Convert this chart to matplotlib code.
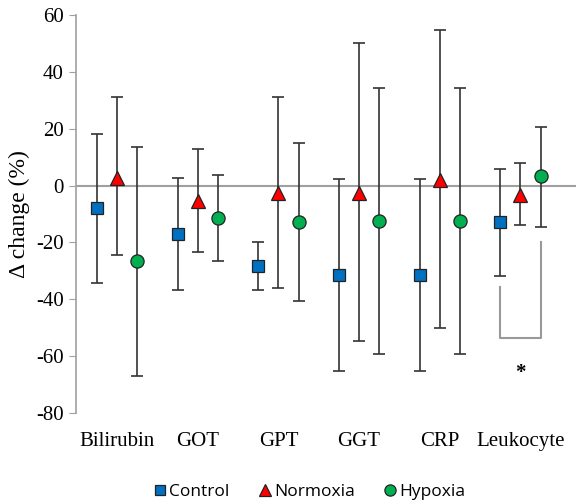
import matplotlib
matplotlib.use('Agg')
from matplotlib import pyplot as plt
import numpy as np

plt.rcParams['font.family'] = 'Liberation Serif'
plt.rcParams['axes.unicode_minus'] = False

categories = ['Bilirubin', 'GOT', 'GPT', 'GGT', 'CRP', 'Leukocyte']

# mean change (%) and error bar ends
control = [-8, -17, -28.5, -31.5, -31.5, -13]
control_hi = [18, 2.5, -20, 2.3, 2.2, 6]
control_lo = [-34.4, -36.8, -36.8, -65.3, -65.3, -31.8]

normoxia = [2.8, -5.6, -2.6, -2.5, 1.8, -3.2]
normoxia_hi = [31.2, 13, 31.2, 50.1, 54.7, 8]
normoxia_lo = [-24.6, -23.5, -36.1, -54.6, -50.3, -14]

hypoxia = [-26.7, -11.3, -12.7, -12.6, -12.4, 3.2]
hypoxia_hi = [13.7, 3.8, 15, 34.4, 34.4, 20.7]
hypoxia_lo = [-67, -26.7, -40.7, -59.3, -59.3, -14.6]

groups = [
    ('Control', control, control_lo, control_hi, 's', '#0070C0', 9),
    ('Normoxia', normoxia, normoxia_lo, normoxia_hi, '^', '#FF0000', 10),
    ('Hypoxia', hypoxia, hypoxia_lo, hypoxia_hi, 'o', '#00B050', 9.5),
]
offsets = [-0.25, 0, 0.25]

fig = plt.figure(figsize=(5.76, 5.04), dpi=100)
ax = fig.add_axes([0.132, 0.181, 0.868, 0.789])

x = np.arange(len(categories))
ax.axhline(0, color='#a0a0a0', lw=1.5, zorder=1)

for (name, m, lo, hi, mk, col, ms), off in zip(groups, offsets):
    m = np.array(m)
    err = [m - np.array(lo), np.array(hi) - m]
    ax.errorbar(x + off, m, yerr=err, fmt='none', ecolor='#333333',
                elinewidth=1.2, capsize=4, capthick=1.2, zorder=2)
    ax.plot(x + off, m, mk, color=col, mec='#222222', mew=0.9, ms=ms,
            ls='none', label=name, zorder=3)

# significance bracket for Leukocyte
xl, xr = x[5] + offsets[0], x[5] + offsets[2]
ax.plot([xl, xl, xr, xr], [-35.8, -53.7, -53.7, -20], color='#999999',
        lw=1.5, zorder=1)
ax.text(x[5], -66, '*', ha='center', va='center', fontsize=15,
        weight='bold')

ax.set_xlim(-0.51, 5.69)
ax.set_ylim(-80, 60)
ax.set_yticks(np.arange(-80, 61, 20))
ax.set_xticks(x)
ax.set_xticklabels(categories)
ax.tick_params(axis='x', length=0, pad=14, labelsize=15)
ax.tick_params(axis='y', length=5, color='#a0a0a0', pad=4, labelsize=15)
ax.set_ylabel('Δ change (%)', fontsize=17, labelpad=4)

for s in ['top', 'right', 'bottom']:
    ax.spines[s].set_visible(False)
ax.spines['left'].set_color('#a0a0a0')
ax.spines['left'].set_linewidth(1.2)

leg = fig.legend(loc='center', bbox_to_anchor=(0.535, 0.024), ncol=3,
                 frameon=False, prop={'family': 'Open Sans', 'size': 12.5},
                 handletextpad=0.05, columnspacing=1.5, handlelength=1.0,
                 markerscale=0.85)

fig.savefig('out.png', dpi=100)
